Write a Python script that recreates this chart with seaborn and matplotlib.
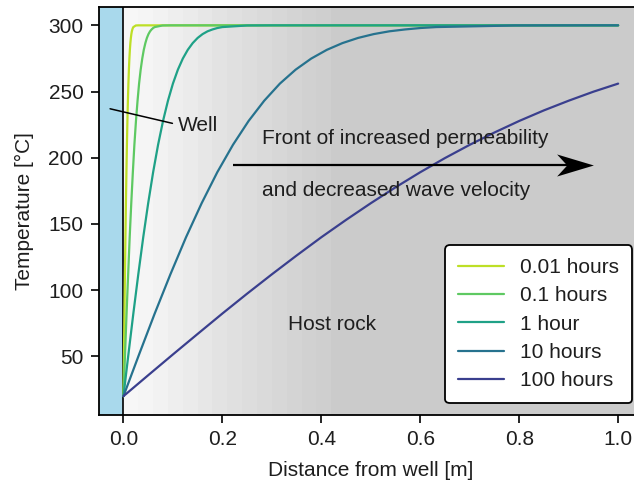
import numpy as np
import pandas as pd
import matplotlib
matplotlib.use("Agg")
import matplotlib.pyplot as plt
from matplotlib.path import Path
import seaborn as sns

# ---- data ----
labels = ["0.01 hours", "0.1 hours", "1 hour", "10 hours", "100 hours"]
colors = ["#bddf26", "#5ec962", "#1fa187", "#26728e", "#3a3f8e"]

x_001 = [0, 0.001, 0.002, 0.003, 0.004, 0.005, 0.006, 0.007, 0.008, 0.009, 0.010,
         0.011, 0.012, 0.013, 0.014, 0.015, 0.016, 0.017, 0.018, 0.019, 0.020,
         0.025, 0.030, 1.0]
t_001 = [20, 51.5, 82.4, 112.0, 140.0, 165.7, 189.1, 209.8, 227.8, 243.1, 256.0,
         266.5, 274.9, 281.5, 286.6, 290.5, 293.4, 295.5, 296.9, 298.0, 298.7,
         299.9, 300, 300]

x_01 = [0, 0.0032, 0.0063, 0.0095, 0.0126, 0.0158, 0.019, 0.0221, 0.0253, 0.0285, 0.0316,
        0.0348, 0.038, 0.0411, 0.0443, 0.0474, 0.0506, 0.0538, 0.0569, 0.0601, 0.0632,
        0.079, 0.095, 1.0]
t_01 = [20, 51.5, 82.4, 112.0, 140.0, 165.7, 189.1, 209.8, 227.8, 243.1, 256.0,
        266.5, 274.9, 281.5, 286.6, 290.5, 293.4, 295.5, 296.9, 298.0, 298.7,
        299.9, 300, 300]

x_1 = [0, 0.01, 0.02, 0.03, 0.04, 0.05, 0.06, 0.07, 0.08, 0.09, 0.10,
       0.11, 0.12, 0.13, 0.14, 0.15, 0.16, 0.17, 0.18, 0.19, 0.20,
       0.25, 0.30, 1.0]
t_1 = [20, 51.5, 82.4, 112.0, 140.0, 165.7, 189.1, 209.8, 227.8, 243.1, 256.0,
       266.5, 274.9, 281.5, 286.6, 290.5, 293.4, 295.5, 296.9, 298.0, 298.7,
       299.9, 300, 300]

x_10 = [0, 0.0316, 0.0632, 0.0949, 0.1265, 0.1581, 0.1897, 0.2214, 0.253, 0.2846, 0.3162,
        0.3479, 0.3795, 0.4111, 0.4427, 0.4743, 0.506, 0.5376, 0.5692, 0.6008, 0.6325,
        0.7906, 0.9487, 1.0]
t_10 = [20, 51.5, 82.4, 112.0, 140.0, 165.7, 189.1, 209.8, 227.8, 243.1, 256.0,
        266.5, 274.9, 281.5, 286.6, 290.5, 293.4, 295.5, 296.9, 298.0, 298.7,
        299.9, 300, 300]

x_100 = [0, 0.05, 0.1, 0.15, 0.2, 0.25, 0.3, 0.35, 0.4, 0.45, 0.5, 0.55, 0.6, 0.65,
         0.7, 0.75, 0.8, 0.85, 0.9, 0.95, 1.0]
t_100 = [20, 35.8, 51.5, 67.0, 82.4, 97.4, 112.0, 126.2, 140.0, 153.1, 165.7, 177.7,
         189.1, 199.8, 209.8, 219.1, 227.8, 235.8, 243.1, 249.9, 256.0]

xs = [x_001, x_01, x_1, x_10, x_100]
ts = [t_001, t_01, t_1, t_10, t_100]

frames = []
for lab, x, t in zip(labels, xs, ts):
    frames.append(pd.DataFrame({"x": x, "T": t, "time": lab}))
df = pd.concat(frames, ignore_index=True)

# background shading (white near well -> grey in host rock)
stripe_edges = [0, 0.03, 0.06, 0.09, 0.12, 0.15, 0.18, 0.21, 0.24, 0.27, 0.30, 0.33,
                0.36, 0.39, 0.42, 1.2]
stripe_grey = [0.97, 0.962, 0.95, 0.935, 0.92, 0.905, 0.89, 0.878, 0.866, 0.854,
               0.842, 0.83, 0.82, 0.81, 0.795]

# ---- figure ----
sns.set_style("ticks")
plt.rcParams["font.family"] = ["Liberation Sans", "DejaVu Sans"]
FS = 15
TXT = "#1e1e1e"

fig = plt.figure(figsize=(6.34, 4.86), dpi=100)
ax = fig.add_axes([0.1557, 0.1467, 1.014 - 0.1557, 0.986 - 0.1467])

for i, g in enumerate(stripe_grey):
    ax.axvspan(stripe_edges[i], stripe_edges[i + 1], color=(g, g, g), lw=0, zorder=0)
ax.axvspan(-0.06, 0, color="#a9d9ec", lw=0, zorder=0)
ax.axvline(0, color="black", lw=1.2, zorder=1)

sns.lineplot(data=df, x="x", y="T", hue="time", palette=colors, hue_order=labels,
             sort=False, estimator=None, lw=1.6, ax=ax, zorder=3)

ax.set_xlim(-0.05, 1.05)
ax.set_ylim(6, 314)
ax.set_xticks([0.0, 0.2, 0.4, 0.6, 0.8, 1.0])
ax.set_xticklabels(["0.0", "0.2", "0.4", "0.6", "0.8", "1.0"])
ax.set_yticks([50, 100, 150, 200, 250, 300])
ax.tick_params(labelsize=FS, length=6, width=1.2, pad=5, color="black", labelcolor=TXT)
for s in ax.spines.values():
    s.set_color("black")
    s.set_linewidth(1.3)
ax.set_xlabel("Distance from well [m]", fontsize=FS, color=TXT, labelpad=9)
ax.set_ylabel("Temperature [°C]", fontsize=FS, color=TXT, labelpad=10)

# annotations
ax.annotate("", xy=(-0.027, 237), xytext=(0.099, 226),
            arrowprops=dict(arrowstyle="-", lw=1.1, color="black", shrinkA=0, shrinkB=0))
ax.text(0.111, 224, "Well", fontsize=FS, va="center", ha="left", color=TXT)

# arrow: shaft + stealth-shaped head
ax.plot([0.222, 0.925], [194.7, 194.7], color="black", lw=1.6, zorder=4,
        solid_capstyle="butt")
stealth = Path([(1, 0), (-1, 0.6), (-0.45, 0), (-1, -0.6), (1, 0)],
               [Path.MOVETO, Path.LINETO, Path.LINETO, Path.LINETO, Path.CLOSEPOLY])
ax.plot([0.913], [194.7], marker=stealth, markersize=26.5, color="black",
        markeredgewidth=0, zorder=5)

ax.text(0.281, 214.4, "Front of increased permeability", fontsize=FS, va="center",
        ha="left", color=TXT)
ax.text(0.281, 175, "and decreased wave velocity", fontsize=FS, va="center",
        ha="left", color=TXT)
ax.text(0.333, 74, "Host rock", fontsize=FS, va="center", ha="left", color=TXT)

leg = ax.legend(loc="lower right", bbox_to_anchor=(0.98, 0.029), borderaxespad=0,
                fontsize=FS, frameon=True, fancybox=True, framealpha=1,
                handlelength=2.2, handletextpad=0.8, borderpad=0.6,
                labelspacing=0.45, title=None)
leg.get_frame().set_edgecolor("black")
leg.get_frame().set_linewidth(1.3)
for txt in leg.get_texts():
    txt.set_color(TXT)

fig.savefig("out.png", dpi=100)
